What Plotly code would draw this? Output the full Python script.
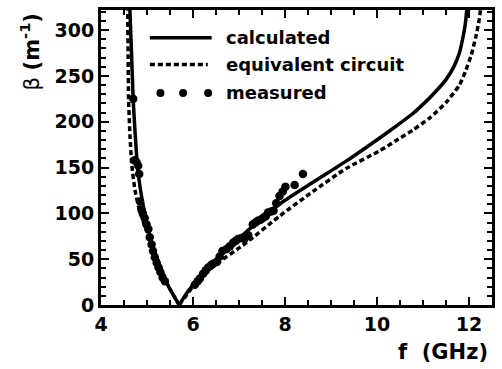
import plotly.graph_objects as go

# ---- data ----
calc_f = [4.625, 4.63, 4.66, 4.70, 4.745, 4.79, 4.86, 4.955, 5.08, 5.24, 5.45, 5.70,
          None,
          5.70, 5.85, 6.00, 6.44, 7.16, 7.88, 8.61, 9.33, 10.05, 10.41, 10.78, 11.00, 11.20,
          11.50, 11.68, 11.79, 11.88, 11.92, 11.95, 11.96]
calc_b = [335, 320, 280, 224, 185, 153, 125, 99, 72, 48, 22, 0,
          None,
          0, 12, 22, 47, 80, 110, 134, 157, 182, 195, 209, 219, 229,
          246, 261, 275, 295, 307, 322, 335]

equiv_f = [4.578, 4.58, 4.59, 4.60, 4.63, 4.67, 4.74, 4.84, 4.96, 5.08, 5.24, 5.45, 5.70,
           None,
           5.70, 6.00, 6.44, 7.16, 7.88, 8.61, 9.33, 10.05, 10.40, 10.78, 11.14, 11.50,
           11.79, 11.93, 12.05, 12.15, 12.22, 12.25, 12.26]
equiv_b = [335, 322, 270, 224, 185, 153, 125, 103, 85, 70, 48, 22, 0,
           None,
           0, 20, 42, 68, 97, 124, 149, 168, 179, 191, 204, 221,
           240, 256, 273, 293, 311, 322, 335]

meas_f = [4.70, 4.73, 4.77, 4.81, 4.83, 4.85, 4.88, 4.91, 4.95, 4.99, 5.03, 5.06, 5.10,
          5.13, 5.17, 5.21, 5.25, 5.29, 5.34, 5.39,
          6.04, 6.10, 6.15, 6.22, 6.28, 6.33, 6.40, 6.44, 6.52, 6.58, 6.64, 6.73, 6.80,
          6.87, 6.93, 6.98, 7.05, 7.12, 7.20, 7.30, 7.36, 7.41, 7.47, 7.52, 7.58, 7.63,
          7.70, 7.75, 7.81, 7.88, 7.95, 8.01, 8.21, 8.39]
meas_b = [225, 158, 156, 152, 143, 113, 104, 100, 95, 88, 83, 74, 66,
          59, 52, 46, 41, 36, 30, 26,
          22, 26, 29, 34, 38, 41, 44, 45, 47, 53, 59, 61, 64,
          68, 70, 72, 73, 72, 76, 88, 90, 92, 93, 95, 97, 101,
          102, 103, 111, 119, 124, 129, 131, 143]

x_ticks = [4, 6, 8, 10, 12]
y_ticks = [0, 50, 100, 150, 200, 250, 300]
legend_labels = ["calculated", "equivalent circuit", "measured"]

FONT = "DejaVu Sans"
LW = 3.5
DASH = "5px,3px"

fig = go.Figure()
fig.add_trace(go.Scatter(x=calc_f, y=calc_b, mode="lines",
                         line=dict(color="black", width=LW, shape="spline", smoothing=0.6),
                         connectgaps=False, showlegend=False, name=legend_labels[0]))
fig.add_trace(go.Scatter(x=equiv_f, y=equiv_b, mode="lines",
                         line=dict(color="black", width=LW, dash=DASH, shape="spline",
                                   smoothing=0.6),
                         connectgaps=False, showlegend=False, name=legend_labels[1]))
fig.add_trace(go.Scatter(x=meas_f, y=meas_b, mode="markers",
                         marker=dict(color="black", size=8.5, symbol="circle"),
                         showlegend=False, name=legend_labels[2]))

axis_common = dict(
    showline=True, linewidth=3, linecolor="black", mirror="allticks",
    ticks="inside", ticklen=8, tickwidth=2, tickcolor="black",
    showgrid=False, zeroline=False,
    tickfont=dict(family=FONT, size=19, color="black", weight="bold"),
)

fig.update_xaxes(range=[4, 12.5], tickvals=x_ticks, ticktext=[str(v) for v in x_ticks],
                 minor=dict(dtick=0.5, tick0=4, ticks="inside", ticklen=5, tickwidth=2,
                            tickcolor="black", showgrid=False),
                 **axis_common)
fig.update_yaxes(range=[0, 322], tickvals=y_ticks, ticktext=[str(v) for v in y_ticks],
                 minor=dict(dtick=10, tick0=0, ticks="inside", ticklen=5, tickwidth=2,
                            tickcolor="black", showgrid=False),
                 **axis_common)

# ---- hand-drawn legend (paper coordinates) ----
shapes = [
    dict(type="line", xref="paper", yref="paper", x0=0.125, x1=0.283, y0=0.906, y1=0.906,
         line=dict(color="black", width=LW)),
    dict(type="line", xref="paper", yref="paper", x0=0.125, x1=0.273, y0=0.815, y1=0.815,
         line=dict(color="black", width=LW, dash=DASH)),
]
for xd in [0.152, 0.210, 0.274]:
    shapes.append(dict(type="circle", xref="paper", yref="paper",
                       xsizemode="pixel", ysizemode="pixel",
                       xanchor=xd, yanchor=0.719, x0=-4, x1=4, y0=-4, y1=4,
                       fillcolor="black", line=dict(color="black", width=0)))

annotations = []
for lab, yy in zip(legend_labels, [0.906, 0.815, 0.721]):
    annotations.append(dict(text="<b>%s</b>" % lab, xref="paper", yref="paper",
                            x=0.314, y=yy, xanchor="left", yanchor="middle",
                            showarrow=False,
                            font=dict(family=FONT, size=18, color="black")))

annotations.append(dict(text="β <b>(m<sup>-1</sup>)</b>", xref="paper", yref="paper",
                        x=-0.181, y=0.86, xanchor="center", yanchor="middle",
                        textangle=-90, showarrow=False,
                        font=dict(family=FONT, size=21, color="black")))
annotations.append(dict(text="<b>f\u00a0\u00a0(GHz)</b>", xref="paper", yref="paper",
                        x=0.995, y=-0.158, xanchor="right", yanchor="middle",
                        showarrow=False,
                        font=dict(family=FONT, size=21, color="black")))

fig.update_layout(
    width=502, height=369,
    margin=dict(l=101, r=9, t=7, b=64),
    paper_bgcolor="white", plot_bgcolor="white",
    shapes=shapes, annotations=annotations,
    showlegend=False,
)

fig.write_html("out.html")
